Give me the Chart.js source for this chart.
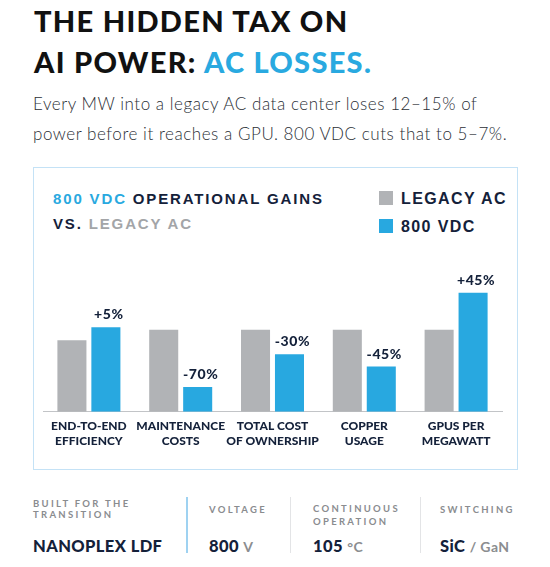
<!DOCTYPE html>
<html>
<head>
<meta charset="utf-8">
<script src="https://cdn.jsdelivr.net/npm/chart.js@4/dist/chart.umd.min.js"></script>
<style>
  html, body { margin: 0; padding: 0; background: #fff; }
  body { width: 550px; height: 567px; position: relative; overflow: hidden; font-family: Lato, sans-serif; }
  .abs { position: absolute; white-space: nowrap; }
  .title { left: 34px; top: 0; font: 900 29px/41px Lato; letter-spacing: 1.3px; color: #111; }
  .blue { color: #29a9e0; }
  .sub { left: 33px; top: 89px; font: 300 17px/30px Lato; letter-spacing: 0.55px; color: #2b2f36; }
  .box { left: 33px; top: 167px; width: 483px; height: 301px; border: 1px solid #c4e2f6; }
  .ctitle { left: 53px; top: 187px; font: bold 15px/24.7px "Liberation Sans"; letter-spacing: 1.85px; color: #14213a; }
  .gray { color: #a3a5a8; }
  .sw { width: 14px; height: 14px; }
  .leg { font: bold 16px/19.2px "Liberation Sans"; letter-spacing: 1.4px; color: #14213a; }
  .lab { font: 700 9.5px/1.2 Lato; letter-spacing: 2.3px; color: #8a8c8f; }
  .val { font: 900 16.5px/1.2 Lato; letter-spacing: 0.4px; color: #14213a; }
  .unit { font-weight: 700; font-size: 14px; color: #8b8d90; }
  .div { width: 1px; height: 56px; top: 497px; }
</style>
</head>
<body>
<div class="abs title">THE HIDDEN TAX ON<br>AI POWER: <span class="blue">AC LOSSES.</span></div>
<div class="abs sub">Every MW into a legacy AC data center loses 12–15% of<br>power before it reaches a GPU. 800 VDC cuts that to 5–7%.</div>

<div class="abs box"></div>
<div class="abs ctitle"><span class="blue">800 VDC</span> OPERATIONAL GAINS<br>VS. <span class="gray">LEGACY AC</span></div>
<div class="abs sw" style="left:379px;top:191px;background:#b1b3b6"></div>
<div class="abs leg" style="left:401px;top:189px">LEGACY AC</div>
<div class="abs sw" style="left:379px;top:219px;background:#28a8e0"></div>
<div class="abs leg" style="left:401px;top:217px">800 VDC</div>

<div class="abs" style="left:34px;top:250px;width:483px;height:215px">
  <canvas id="chart"></canvas>
</div>

<div class="abs lab" style="left:33px;top:498px">BUILT FOR THE<br>TRANSITION</div>
<div class="abs val" style="left:33px;top:536.5px">NANOPLEX LDF</div>
<div class="abs div" style="left:186px;width:2px;background:#9fd2f1"></div>
<div class="abs lab" style="left:209px;top:504px">VOLTAGE</div>
<div class="abs val" style="left:209px;top:536.5px">800 <span class="unit">V</span></div>
<div class="abs div" style="left:290px;background:#e3e4e6"></div>
<div class="abs lab" style="left:313px;top:501.5px;line-height:13.3px">CONTINUOUS<br>OPERATION</div>
<div class="abs val" style="left:313px;top:536.5px">105 <span class="unit">°C</span></div>
<div class="abs div" style="left:420px;background:#e3e4e6"></div>
<div class="abs lab" style="left:440px;top:503.5px">SWITCHING</div>
<div class="abs val" style="left:440px;top:536.5px">SiC <span class="unit">/ GaN</span></div>

<script>
const categories = [
  ['END-TO-END', 'EFFICIENCY'],
  ['MAINTENANCE', 'COSTS'],
  ['TOTAL COST', 'OF OWNERSHIP'],
  ['COPPER', 'USAGE'],
  ['GPUS PER', 'MEGAWATT']
];
// index: legacy AC = 100 baseline (efficiency shown on its own scale)
const legacyAC = [87, 100, 100, 100, 100];
const vdc800 = [103, 30, 70, 55, 145];
const changeLabels = ['+5%', '-70%', '-30%', '-45%', '+45%'];

const navy = '#14213a';

const changeLabelPlugin = {
  id: 'changeLabels',
  afterDatasetsDraw(chart) {
    const ctx = chart.ctx;
    const meta = chart.getDatasetMeta(1);
    ctx.save();
    ctx.font = '900 14px Lato';
    ctx.letterSpacing = '0.6px';
    ctx.fillStyle = navy;
    ctx.textAlign = 'center';
    ctx.textBaseline = 'alphabetic';
    meta.data.forEach((bar, i) => {
      ctx.fillText(changeLabels[i], bar.x + 3, bar.y - 8);
    });
    ctx.restore();
  }
};

new Chart(document.getElementById('chart'), {
  type: 'bar',
  data: {
    labels: categories,
    datasets: [
      { label: 'Legacy AC', data: legacyAC, backgroundColor: '#b1b3b6' },
      { label: '800 VDC', data: vdc800, backgroundColor: '#28a8e0' }
    ]
  },
  options: {
    responsive: true,
    maintainAspectRatio: false,
    animation: false,
    categoryPercentage: 0.74,
    barPercentage: 0.855,
    layout: { padding: { top: 30.5, left: 9, right: 15, bottom: 0 } },
    plugins: {
      legend: { display: false },
      tooltip: { enabled: false }
    },
    scales: {
      x: {
        grid: { display: false },
        border: { display: true, color: '#c2c4c7', width: 1 },
        ticks: {
          color: navy,
          padding: -1,
          autoSkip: false,
          maxRotation: 0,
          minRotation: 0,
          font: { family: 'Lato', weight: '900', size: 12, lineHeight: 1.25 }
        },
        afterFit(scale) { scale.height = 53.3; }
      },
      y: {
        display: false,
        min: 0,
        max: 160
      }
    }
  },
  plugins: [changeLabelPlugin]
});
</script>
</body>
</html>
